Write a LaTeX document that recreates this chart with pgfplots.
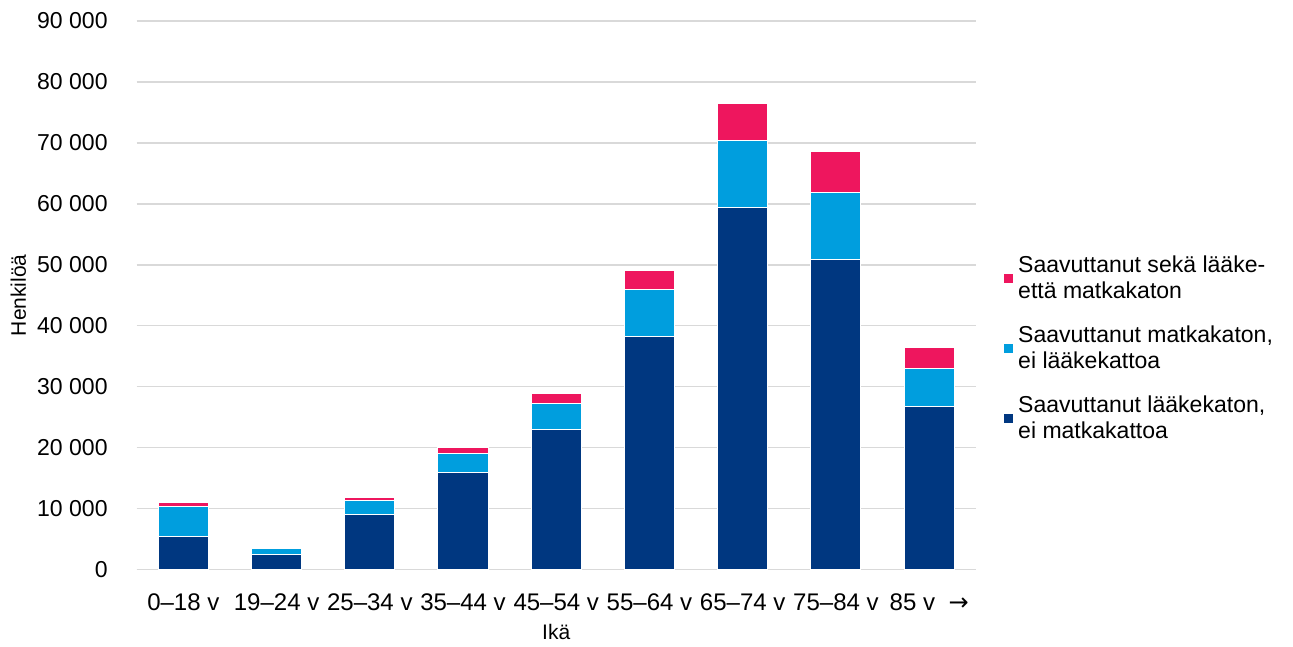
\documentclass[border=0pt]{standalone}
\usepackage{pgfplots}
\pgfplotsset{compat=1.18}
\usepackage{fontspec}
\setmainfont{Liberation Sans}
\newfontfamily\arrowfont{DejaVu Sans}
\definecolor{navy}{RGB}{0,55,128}
\definecolor{sky}{RGB}{0,158,222}
\definecolor{rose}{RGB}{238,22,94}
\definecolor{gridgray}{RGB}{217,217,217}
\begin{document}
\begin{tikzpicture}
\begin{axis}[
  width=419pt, height=274pt, scale only axis,
  ybar stacked, bar width=25pt,
  xmin=-0.5, xmax=8.5, ymin=0, ymax=90000,
  xtick=data,
  xticklabels={0–18 v,19–24 v,25–34 v,35–44 v,45–54 v,55–64 v,65–74 v,75–84 v,85 v\ \ {\arrowfont →}},
  ytick={0,10000,...,90000},
  scaled y ticks=false,
  /pgf/number format/.cd, assume math mode=true, 1000 sep={\ },
  /pgfplots/.cd,
  ymajorgrids, grid style={draw=gridgray, line width=0.8pt},
  axis x line*=bottom, axis y line*=left,
  x axis line style={draw=gridgray, line width=0.8pt, -},
  y axis line style={draw=none},
  major tick length=0pt,
  tick label style={text=black},
  yticklabel style={font=\fontsize{11.5}{13}\selectfont, xshift=-11pt},
  xticklabel style={font=\fontsize{12}{14}\selectfont, yshift=-8.5pt},
  label style={font=\fontsize{10.5}{12}\selectfont},
  xlabel={Ikä}, ylabel={Henkilöä},
  ylabel style={at={(-0.141,0.5)}, anchor=center},
  reverse legend,
  legend style={at={(1.025,0.587)}, anchor=north west, draw=none, fill=none,
    font=\fontsize{11.5}{13}\selectfont, cells={align=left, anchor=west},
    row sep=8pt},
  legend image code/.code={\fill (0pt,-2.5pt) rectangle (5pt,2.5pt);},
  every axis plot/.append style={draw=white, line width=0.5pt},
]
\addplot[fill=navy, draw=white] coordinates {
  (0,5500) (1,2500) (2,9100) (3,15900) (4,22900) (5,38300) (6,59400) (7,50800) (8,26700)};
\addlegendentry{Saavuttanut lääkekaton,\\ei matkakattoa}
\addplot[fill=sky, draw=white] coordinates {
  (0,4800) (1,1000) (2,2300) (3,3100) (4,4400) (5,7600) (6,11000) (7,11100) (8,6200)};
\addlegendentry{Saavuttanut matkakaton,\\ei lääkekattoa}
\addplot[fill=rose, draw=white] coordinates {
  (0,700) (1,100) (2,500) (3,1000) (4,1600) (5,3100) (6,6100) (7,6600) (8,3500)};
\addlegendentry{Saavuttanut sekä lääke-\\että matkakaton}
\end{axis}
\path (current bounding box.north east) -- ++(5pt,3pt);
\path (current bounding box.north west) -- ++(-2pt,0pt);
\end{tikzpicture}
\end{document}
